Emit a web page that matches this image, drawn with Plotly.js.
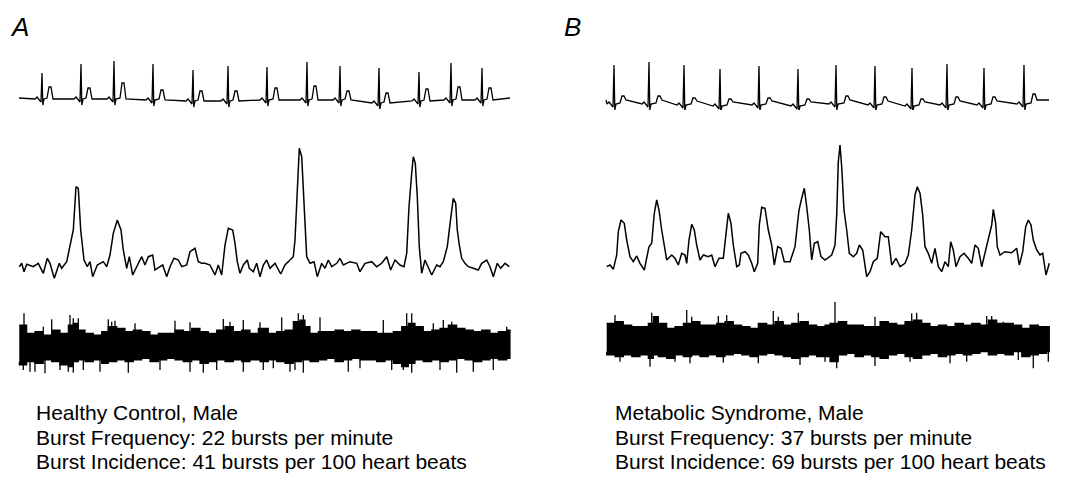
<!DOCTYPE html>
<html><head><meta charset="utf-8">
<script src="https://cdn.plot.ly/plotly-3.0.1.min.js"></script>
<style>html,body{margin:0;padding:0;background:#fff}#chart{width:1070px;height:479px}</style>
</head><body><div id="chart"></div>
<script>
// ===== Panel A: Healthy control =====
// ECG beats (time in samples, amplitude in arbitrary units)
const ecgA_rTime = [24,63,96,135,175,210,249,289,322,361,401,433,464];
const ecgA_rAmp  = [37,46,49,46,40,44,43,48,44,42,38,47,42];
const ecgA_tTime = [32,71,105,144,183,218,258,297,330,369,409,441,472];
const ecgA_tAmp  = [23,22,27,20,19,19,22,24,19,17,21,23,22];
const ecgA_base  = [10,10,10,9,8,8,9,9,9,6,8,9,9];
const ecgA_start = [1,12];
const ecgA_end   = [492,12];

// Integrated neurogram
const intA_x = [1.3,3.7,6,8.7,15.3,20.3,25.3,29.3,32,36.3,41.3,43.7,48.7,52,55.3,58,60.3,62.7,66,69.3,72,74.7,79.3,85.3,88.7,92,95.3,99.3,103,105.3,107,108.7,111.3,114.7,118.7,123.7,127,130.3,134.7,137,142,144.7,148.7,152,156,160.3,163.7,168.7,172,177,180.3,183.7,187,192,197,200.3,203.7,207,210.3,214.7,217,219.3,222,225.3,229.3,231.3,235.3,238.7,242,245.3,248.7,252,257,262.7,267,272,275.3,277,279.3,281.3,283.7,286,288.7,292,296,299.3,303.7,307,310.3,313.7,318.7,322,325.3,332,338.7,342,347,353.7,358.7,363.7,368.7,372.7,377,382,386,388.7,391,393.7,395.3,397.3,399.3,401.3,403.7,407,410.3,413.7,418.7,422,425.3,429.3,432.7,435.3,437.7,439.3,441.3,443.7,447,450.3,455.3,460.3,463.7,468.7,472,475.3,479.3,482.7,487,491.3];
const intA_y = [18.3,21.7,13.3,20.7,18.3,21.7,11.7,26.7,21.7,6.7,21.7,16.7,23.3,40,55,98.3,96.7,55,25,18.3,23.3,8.3,20,23.3,18.3,30,51.7,65,55,35,25,16.7,28.3,10,18.3,28.3,20,28.3,30,15,18.3,20,8.3,18.3,26.7,25,18.3,20,33.3,36.7,23.3,21.7,21.7,20,10,20,10,40,56.7,55,41.7,23.3,11.7,20,25,16.7,13.3,21.7,8.3,20,25,16.7,21.7,11,20,25,28.3,45,98.3,136.7,128.3,78.3,28.3,21.7,23.3,8.3,21.7,16.7,25,18.3,21.7,26.7,20,23.3,21.7,13.3,21.7,23.3,18.3,21.7,28.3,15,25,20,18.3,31.7,78.3,111.7,128.3,121.7,88.3,38.3,11.7,25,16.7,10,20,18.3,23.3,38.3,66.7,86.7,81.7,55,40,26.7,21.7,18.3,16.7,15,21.7,25,18.3,8.3,21.7,16.7,21.7,18.3];

// Raw neurogram: envelope and prominent spikes
const rawA_upX = [1.3,8.7,17,25.3,33.7,42,50.3,55.3,60.3,67,75.3,83.7,90.3,98.7,107,115.3,123.7,132,140.3,148.7,157,165.3,173.7,182,190.3,198.7,207,215.3,223.7,232,240.3,250.3,258.7,267,275.3,282,287,292,300.3,308.7,317,325.3,333.7,342,350.3,358.7,367,375.3,383.7,390.3,397,405.3,413.7,422,430.3,438.7,447,455.3,463.7,472,480.3,488.7,492];
const rawA_upY = [55,46.7,48.3,45,50,46.7,55,56.7,50,46.7,45,48.3,53.3,51.7,48.3,50,48.3,45,46.7,46.7,50,48.3,51.7,48.3,46.7,50,53.3,48.3,50,46.7,51.7,46.7,48.3,50,58.3,60,53.3,46.7,48.3,48.3,50,48.3,50,48.3,48.3,46.7,46.7,48.3,53.3,56.7,53.3,48.3,50,51.7,55,51.7,50,48.3,50,46.7,48.3,50,48.3];
const rawA_lowX = [1.3,8.7,17,25.3,33.7,42,50.3,55.3,60.3,67,75.3,83.7,90.3,98.7,107,115.3,123.7,132,140.3,148.7,157,165.3,173.7,182,190.3,198.7,207,215.3,223.7,232,242,250.3,258.7,267,275.3,283.7,292,300.3,308.7,317,325.3,333.7,342,350.3,358.7,367,375.3,383.7,390.3,397,405.3,413.7,422,430.3,438.7,447,455.3,463.7,472,480.3,488.7,492];
const rawA_lowY = [18.3,15,18.3,16.7,20,18.3,15,13.3,18.3,20,18.3,20,16.7,18.3,20,18.3,20,21.7,18.3,20,21.7,20,18.3,20,16.7,18.3,20,18.3,20,18.3,20,18.3,20,18.3,16.7,18.3,20,18.3,20,21.7,18.3,20,21.7,20,20,18.3,20,16.7,13.3,16.7,20,18.3,20,18.3,20,21.7,20,18.3,20,21.7,20,21.7];
const spkA_upX = [6,25.3,33.7,52,55.3,60.3,90.3,93.7,97,117,157,172,205.3,212,225.3,242,263.7,280.3,285.3,302,365.3,388.7,393.7,415.3,425.3,433.7,488.7];
const spkA_upY = [66.7,53.3,60.7,65,61.7,61.7,60.7,58.3,59.3,56.7,59.3,57.7,61,58.3,60,57.7,62.7,66.7,65,62.7,60,66.7,66.7,56.7,60,58.3,53.3];
const spkA_dnX = [5.3,12,17,27,42,50.3,55.3,65.3,82,110.3,142,172,185.3,198.7,225.3,245.3,255.3,272,277,285.3,330.3,342,373.7,385.3,393.7,422,438.7,455.3,475.3];
const spkA_dnY = [10,8.3,8.3,6.7,10,8.3,7.3,10,8.3,7.3,10,8.3,7.3,10,8.3,10,11.7,8.3,10,7.3,8.3,11.7,10,10,7.3,10,7.3,8.3,10];

// ===== Panel B: Metabolic syndrome =====
const ecgB_rTime = [9,44,79,115,154,193,231,270,307,342,379,419];
const ecgB_rAmp  = [45,48,45,41,44,41,45,44,42,46,42,45];
const ecgB_tTime = [18,54,89,125,164,203,242,280,317,352,389,429];
const ecgB_tAmp  = [14,14,12,11,12,11,14,13,11,13,13,16];
const ecgB_base  = [5,5,4,3,4,3,5,4,3,4,4,5];
const ecgB_start = [1,10];
const ecgB_end   = [444,10];

const intB_x = [1.7,5,8.3,11.7,13.3,16,19.3,21.7,25,28.3,31.7,35,39.3,41.7,44,46.7,49.3,51.7,54,56.7,59.3,61.7,66.7,70,73.3,76.7,80,81.7,84,86.7,89.3,91.7,95,98.3,103.3,106.7,110,114,118.3,120.7,123.3,126,128.3,131.7,134.3,136,140,143.3,146.7,149.3,152.7,154.3,156.7,160,163.3,166.7,169.3,172.7,176,179.3,185,190,194,196.7,199.3,201.7,204.3,206.7,209.3,212.7,216,220,226.7,230,231.7,233.3,235,236.7,239,241.7,244.3,248.3,251.7,254.3,257.7,261.7,265,268.3,272.3,275.7,280,283.3,286.7,291,295,300,303.3,306.7,310,312.3,315,317.7,320,323.3,326.7,330,333.3,336.7,340,343.3,345.7,348.3,351,355,359,363.3,366.7,370,373.3,376.7,380,383.3,386.7,388.3,390.7,392.3,395,400,406.7,411.7,414.3,417.7,420.7,423.3,426,428.3,431.7,435,437.7,441,444.3];
const intB_y = [18.3,20,15.7,30,53.3,65,61.7,45,28.3,23.3,29,21.7,15,26.7,38.3,41.7,71.7,85,75,55,38.3,25,30,26.7,20,31.7,30,21.7,45,60.7,55,40,25,30,28.3,30,18.3,26.7,26.7,50,71.7,61.7,40,18.3,20,31.7,33.3,30,21.7,13.3,21.7,60,77.7,76.7,55,40,20,38.3,36.7,23.3,23.3,38.3,75,86.7,96.7,78.3,55,25,41.7,43.3,28.3,25,30,40,70,123.3,140,118.3,75,55,31.7,28.3,31.7,40,35,8.3,13.3,23.3,26.7,53.3,48.3,48.3,20,26.7,18.3,21.7,30,55,90,98.3,91.7,70,38.3,31.7,21.7,36.7,18.3,13.3,23.3,18.3,43.3,35,18.3,28.3,31.7,26.7,21.7,40,36.7,18.3,31.7,43.3,60,75.7,61.7,38.3,30,33.3,32.3,36.7,20,33.3,58.3,65,60,45,35,30,31.7,10,21.7];

const rawB_x = [1.7,10,18.3,26.7,35,43.3,48.3,53.3,61.7,70,78.3,86.7,95,103.3,111.7,120,128.3,136.7,145,153.3,161.7,170,178.3,186.7,195,203.3,211.7,220,225,233.3,241.7,250,258.3,266.7,275,283.3,291.7,300,308.3,316.7,325,333.3,341.7,350,358.3,366.7,375,383.3,391.7,400,408.3,416.7,425,433.3,441.7,444.3];
const rawB_upY = [56.7,58.3,55,53.3,53.3,56.7,63.3,56.7,51.7,53.3,56.7,58.3,55,55,56.7,58.3,55,53.3,51.7,56.7,55,58.3,55,56.7,58.3,55,53.3,55,56.7,58.3,55,55,53.3,53.3,58.3,56.7,55,58.3,60,56.7,53.3,55,53.3,56.7,55,56.7,55,60,56.7,56.7,55,51.7,55,53.3,53.3,51.7];
const rawB_lowY = [28.3,25,23.3,25,23.3,25,21.7,25,23.3,21.7,25,23.3,25,23.3,25,23.3,25,26.7,25,23.3,25,26.7,25,23.3,21.7,23.3,25,23.3,23.3,18.3,25,26.7,23.3,25,23.3,21.7,25,26.7,23.3,21.7,25,26.7,23.3,25,26.7,25,26.7,28.3,25,26.7,25,28.3,23.3,25,26.7,28.3];
const spkB_upX = [10,46.7,81.7,86.7,113.3,121.7,168.3,173.3,193.3,230,270,306.7,311.7,381.7,386.7,398.3];
const spkB_upY = [65,67.3,70,63.3,64,65,69,63.3,67.3,78,63.3,66.7,67.3,64,64,58.3];
const spkB_dnX = [15,45,70,85,118.3,153.3,195,220,231.7,270,305,345,361.7,413.3,428.3,443.3];
const spkB_dnY = [18.3,13.3,18.3,16.7,17.3,16.7,15,18.3,11.7,14,18.3,16.7,18.3,20,11.7,18.3];

// ===== Text =====
const panelLabels = ['A','B'];
const captionA = ['Healthy Control, Male','Burst Frequency: 22 bursts per minute','Burst Incidence: 41 bursts per 100 heart beats'];
const captionB = ['Metabolic Syndrome, Male','Burst Frequency: 37 bursts per minute','Burst Incidence: 69 bursts per 100 heart beats'];

// ---- helpers ----
function buildEcg(rT, rA, tT, tA, base, start, end, afterT){
  const xs=[start[0]], ys=[start[1]];
  for(let i=0;i<rT.length;i++){
    const r=rT[i], b=base[i];
    const pts=[[r-7,b+1],[r-5,b+3],[r-3,b],[r-1,b-2],[r,rA[i]],[r+0.8,b-5],[r+2,b+1],[tT[i]-3,b+2],[tT[i]-1,tA[i]],[tT[i]+1,tA[i]],[tT[i]+3,b+afterT]];
    pts.forEach(p=>{xs.push(p[0]);ys.push(p[1]);});
  }
  xs.push(end[0]); ys.push(end[1]);
  return {x:xs,y:ys};
}
function band(upX,upY,lowX,lowY){
  return {x:upX.concat(lowX.slice().reverse()), y:upY.concat(lowY.slice().reverse())};
}
function spikes(xArr,yArr,mid){
  const xs=[],ys=[];
  xArr.forEach((v,i)=>{xs.push(v,v,null);ys.push(mid,yArr[i],null);});
  return {x:xs,y:ys};
}

const black='#000';
const eA=buildEcg(ecgA_rTime,ecgA_rAmp,ecgA_tTime,ecgA_tAmp,ecgA_base,ecgA_start,ecgA_end,1);
const eB=buildEcg(ecgB_rTime,ecgB_rAmp,ecgB_tTime,ecgB_tAmp,ecgB_base,ecgB_start,ecgB_end,5);
const bA=band(rawA_upX,rawA_upY,rawA_lowX,rawA_lowY);
const bB=band(rawB_x,rawB_upY,rawB_x,rawB_lowY);
const sAu=spikes(spkA_upX,spkA_upY,35), sAd=spikes(spkA_dnX,spkA_dnY,35);
const sBu=spikes(spkB_upX,spkB_upY,40), sBd=spikes(spkB_dnX,spkB_dnY,40);

const common={mode:'lines',hoverinfo:'skip',showlegend:false};
const traces=[
  Object.assign({},common,{x:eA.x,y:eA.y,xaxis:'x',yaxis:'y',line:{color:black,width:1.3}}),
  Object.assign({},common,{x:intA_x,y:intA_y,xaxis:'x',yaxis:'y2',line:{color:black,width:1.5}}),
  Object.assign({},common,{x:bA.x,y:bA.y,xaxis:'x',yaxis:'y3',fill:'toself',fillcolor:black,line:{color:black,width:1.2,shape:'hv'}}),
  Object.assign({},common,{x:sAu.x,y:sAu.y,xaxis:'x',yaxis:'y3',line:{color:black,width:1.3}}),
  Object.assign({},common,{x:sAd.x,y:sAd.y,xaxis:'x',yaxis:'y3',line:{color:black,width:1.3}}),
  Object.assign({},common,{x:eB.x,y:eB.y,xaxis:'x2',yaxis:'y4',line:{color:black,width:1.3}}),
  Object.assign({},common,{x:intB_x,y:intB_y,xaxis:'x2',yaxis:'y5',line:{color:black,width:1.5}}),
  Object.assign({},common,{x:bB.x,y:bB.y,xaxis:'x2',yaxis:'y6',fill:'toself',fillcolor:black,line:{color:black,width:1.2,shape:'hv'}}),
  Object.assign({},common,{x:sBu.x,y:sBu.y,xaxis:'x2',yaxis:'y6',line:{color:black,width:1.3}}),
  Object.assign({},common,{x:sBd.x,y:sBd.y,xaxis:'x2',yaxis:'y6',line:{color:black,width:1.3}})
];

const hid={visible:false,showgrid:false,zeroline:false,fixedrange:true};
const rowEcg=[0.77035,0.88518], rowInt=[0.40501,0.71816], rowRaw=[0.20668,0.37370];
const font='"Liberation Sans", Arial, Helvetica, sans-serif';
const anns=[];
anns.push({text:panelLabels[0],x:0.0075,y:0.9436,xref:'paper',yref:'paper',xanchor:'left',yanchor:'middle',showarrow:false,font:{family:font,size:26,color:black,style:'italic'}});
anns.push({text:panelLabels[1],x:0.5252,y:0.9436,xref:'paper',yref:'paper',xanchor:'left',yanchor:'middle',showarrow:false,font:{family:font,size:26,color:black,style:'italic'}});
const lineY=[0.1378,0.0856,0.0355];
captionA.forEach((t,i)=>anns.push({text:t,x:0.0318,y:lineY[i],xref:'paper',yref:'paper',xanchor:'left',yanchor:'middle',showarrow:false,font:{family:font,size:21,color:black}}));
captionB.forEach((t,i)=>anns.push({text:t,x:0.5729,y:lineY[i],xref:'paper',yref:'paper',xanchor:'left',yanchor:'middle',showarrow:false,font:{family:font,size:21,color:black}}));

const layout={
  width:1070,height:479,margin:{l:0,r:0,t:0,b:0},paper_bgcolor:'#fff',plot_bgcolor:'rgba(0,0,0,0)',
  xaxis:Object.assign({},hid,{domain:[0.01682,0.4785],range:[0,494],anchor:'y'}),
  xaxis2:Object.assign({},hid,{domain:[0.56542,0.98131],range:[0,445],anchor:'y4'}),
  yaxis:Object.assign({},hid,{domain:rowEcg,range:[0,55],anchor:'x'}),
  yaxis2:Object.assign({},hid,{domain:rowInt,range:[0,150],anchor:'x'}),
  yaxis3:Object.assign({},hid,{domain:rowRaw,range:[0,80],anchor:'x'}),
  yaxis4:Object.assign({},hid,{domain:rowEcg,range:[0,55],anchor:'x2'}),
  yaxis5:Object.assign({},hid,{domain:rowInt,range:[0,150],anchor:'x2'}),
  yaxis6:Object.assign({},hid,{domain:rowRaw,range:[0,80],anchor:'x2'}),
  annotations:anns
};
Plotly.newPlot('chart',traces,layout,{staticPlot:true,displayModeBar:false});
</script></body></html>
